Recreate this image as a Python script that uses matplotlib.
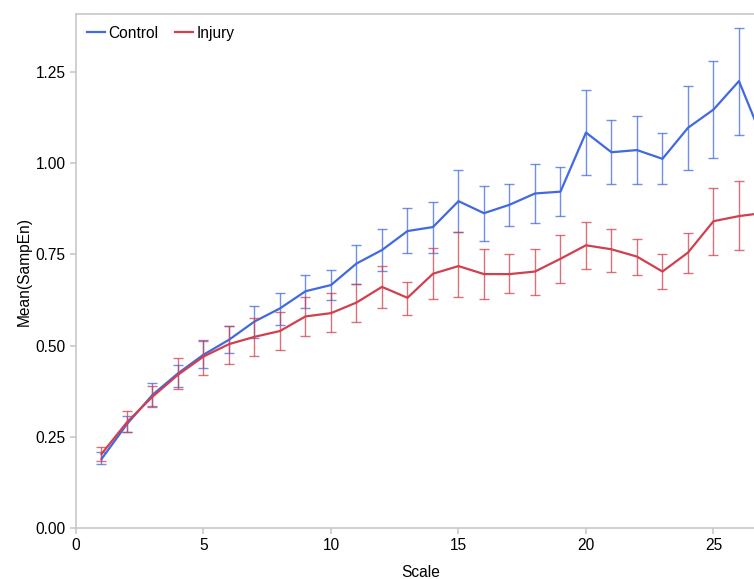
import numpy as np
import matplotlib
matplotlib.use('Agg')
import matplotlib.pyplot as plt

# %% podaci (procitani sa slike)

scale = [1, 2, 3, 4, 5, 6, 7, 8, 9, 10, 11, 12, 13, 14, 15, 16, 17, 18, 19, 20,
         21, 22, 23, 24, 25, 26, 27]

control_mean = [0.189, 0.285, 0.365, 0.424, 0.475, 0.516, 0.566, 0.602, 0.649, 0.666,
                0.725, 0.762, 0.814, 0.825, 0.896, 0.863, 0.886, 0.917, 0.922, 1.084,
                1.030, 1.036, 1.012, 1.097, 1.147, 1.225, 1.054]
control_lo = [0.175, 0.262, 0.335, 0.387, 0.438, 0.479, 0.522, 0.557, 0.604, 0.625,
              0.670, 0.705, 0.753, 0.755, 0.812, 0.787, 0.829, 0.837, 0.855, 0.968,
              0.942, 0.944, 0.942, 0.980, 1.015, 1.077, 0.930]
control_hi = [0.208, 0.308, 0.398, 0.448, 0.513, 0.553, 0.609, 0.645, 0.694, 0.708,
              0.777, 0.820, 0.876, 0.895, 0.980, 0.938, 0.943, 0.998, 0.989, 1.201,
              1.118, 1.129, 1.082, 1.211, 1.279, 1.371, 1.180]

injury_mean = [0.203, 0.290, 0.360, 0.420, 0.470, 0.504, 0.524, 0.540, 0.580, 0.589,
               0.618, 0.661, 0.631, 0.697, 0.718, 0.696, 0.696, 0.703, 0.738, 0.775,
               0.764, 0.744, 0.703, 0.755, 0.841, 0.855, 0.864]
injury_lo = [0.183, 0.264, 0.333, 0.381, 0.419, 0.449, 0.472, 0.488, 0.525, 0.536,
             0.565, 0.603, 0.585, 0.627, 0.632, 0.629, 0.643, 0.640, 0.671, 0.711,
             0.703, 0.693, 0.654, 0.698, 0.749, 0.761, 0.770]
injury_hi = [0.223, 0.321, 0.390, 0.465, 0.516, 0.554, 0.576, 0.592, 0.634, 0.643,
             0.670, 0.718, 0.675, 0.768, 0.812, 0.766, 0.752, 0.766, 0.803, 0.839,
             0.821, 0.793, 0.750, 0.810, 0.932, 0.951, 0.960]

y_ticks = [0.00, 0.25, 0.50, 0.75, 1.00, 1.25]
x_ticks = [0, 5, 10, 15, 20, 25]

# %% grafik

plt.rcParams['font.family'] = ['Liberation Sans', 'DejaVu Sans']

BLUE = '#4169e1'
RED = '#d0404f'
GRAY = '#c8c8c8'
FS = 11.2

fig = plt.figure(figsize=(7.54, 5.79), dpi=100)
ax = fig.add_axes([76 / 754, 51 / 579, 690 / 754, 514 / 579])

for mean, lo, hi, col, name in [(control_mean, control_lo, control_hi, BLUE, 'Control'),
                                (injury_mean, injury_lo, injury_hi, RED, 'Injury')]:
    mean = np.array(mean)
    yerr = [mean - np.array(lo), np.array(hi) - mean]
    ax.errorbar(scale, mean, yerr=yerr, fmt='none', ecolor=col, elinewidth=1.0,
                capsize=3.6, capthick=1.0, alpha=0.75)
    ax.plot(scale, mean, color=col, linewidth=1.6, label=name)

ax.set_xlim(0, 27.06)
ax.set_ylim(0, 1.409)
ax.set_xticks(x_ticks)
ax.set_yticks(y_ticks)
ax.set_yticklabels([f'{v:.2f}' for v in y_ticks])

for s in ['left', 'bottom', 'top', 'right']:
    ax.spines[s].set_color(GRAY)
    ax.spines[s].set_linewidth(1.2)
ax.tick_params(colors=GRAY, labelcolor='black', labelsize=FS, length=4, width=1.2)

ax.set_xlabel('Scale', fontsize=FS, labelpad=8)
ax.set_ylabel('Mean(SampEn)', fontsize=FS, labelpad=3)

ax.legend(loc='upper left', ncol=2, frameon=False, fontsize=FS, handlelength=1.15,
          handletextpad=0.2, columnspacing=1.1, borderaxespad=0.3,
          bbox_to_anchor=(0.0, 0.998))

fig.savefig('out.png', dpi=100)
